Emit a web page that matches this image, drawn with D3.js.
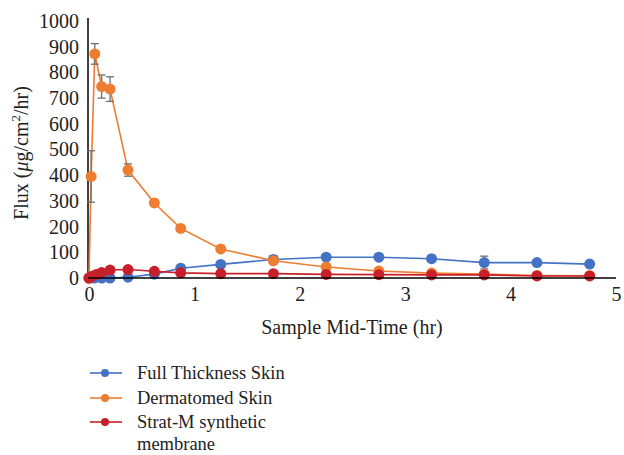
<!DOCTYPE html>
<html>
<head>
<meta charset="utf-8">
<script src="https://cdn.jsdelivr.net/npm/d3@7"></script>
<style>
  body { margin: 0; background: #fff; }
  svg text { font-family: "Liberation Serif", "Times New Roman", serif; fill: #222; }
</style>
</head>
<body>
<svg width="624" height="455"></svg>
<script>
// values
var seriesNames = ["Full Thickness Skin", "Dermatomed Skin", "Strat-M synthetic membrane"];
var seriesColors = ["#4472c4", "#ed7d31", "#c8202b"];

var fullTimes = [0, 0.05, 0.12, 0.2, 0.37, 0.62, 0.87, 1.25, 1.75, 2.25, 2.75, 3.25, 3.75, 4.25, 4.75];
var fullFlux  = [0, 0, 0, 0, 3, 15, 38, 53, 72, 81, 81, 75, 60, 60, 54];
var fullErr   = [0, 0, 0, 0, 2, 3, 4, 8, 15, 10, 12, 12, 25, 6, 6];

var dermTimes = [0, 0.02, 0.055, 0.12, 0.2, 0.37, 0.62, 0.87, 1.25, 1.75, 2.25, 2.75, 3.25, 3.75, 4.25, 4.75];
var dermFlux  = [0, 395, 872, 745, 735, 420, 292, 193, 113, 67, 43, 27, 19, 15, 10, 9];
var dermErr   = [0, 100, 40, 45, 48, 24, 10, 5, 4, 4, 3, 2, 2, 2, 2, 2];

var stratTimes = [0, 0.03, 0.07, 0.12, 0.2, 0.37, 0.62, 0.87, 1.25, 1.75, 2.25, 2.75, 3.25, 3.75, 4.25, 4.75];
var stratFlux  = [0, 7, 14, 21, 31, 33, 26, 20, 17, 17, 14, 13, 12, 12, 8, 8];
var stratErr   = [0, 1, 2, 2, 3, 10, 3, 2, 2, 2, 2, 2, 2, 2, 2, 2];

var xTicks = [0, 1, 2, 3, 4, 5];
var yTicks = [0, 100, 200, 300, 400, 500, 600, 700, 800, 900, 1000];

var series = [
  {name: seriesNames[0], color: seriesColors[0], t: fullTimes, v: fullFlux, e: fullErr},
  {name: seriesNames[1], color: seriesColors[1], t: dermTimes, v: dermFlux, e: dermErr},
  {name: seriesNames[2], color: seriesColors[2], t: stratTimes, v: stratFlux, e: stratErr}
];

var FONT = "Liberation Serif";
var svg = d3.select("svg");

var x = d3.scaleLinear().domain([0, 5]).range([89, 616]);
var y = d3.scaleLinear().domain([0, 1000]).range([278, 21]);

// axes
svg.append("line").attr("x1", x(0) - 1).attr("x2", x(0) - 1).attr("y1", y(1000) - 3).attr("y2", y(0))
  .attr("stroke", "#000").attr("stroke-width", 1.5);

var gy = svg.append("g").attr("transform", "translate(" + (x(0) - 1) + ",0)")
  .call(d3.axisLeft(y).tickValues(yTicks).tickFormat(d3.format("d")).tickSize(0).tickPadding(9));
gy.attr("font-family", FONT).attr("font-size", 20);
gy.select(".domain").remove();
gy.selectAll("text").attr("fill", "#222");

var gx = svg.append("g").attr("transform", "translate(0," + y(0) + ")")
  .call(d3.axisBottom(x).tickValues(xTicks).tickFormat(d3.format("d")).tickSize(0).tickPadding(9));
gx.attr("font-family", FONT).attr("font-size", 20);
gx.select(".domain").remove();
gx.selectAll("text").attr("fill", "#222");

// titles
svg.append("text").attr("x", 352).attr("y", 334).attr("text-anchor", "middle")
  .attr("font-size", 20).text("Sample Mid-Time (hr)");

var yt = svg.append("text").attr("transform", "translate(28,153) rotate(-90)")
  .attr("text-anchor", "middle").attr("font-size", 20);
yt.append("tspan").text("Flux (");
yt.append("tspan").attr("font-style", "italic").text("μ");
yt.append("tspan").text("g/cm");
yt.append("tspan").attr("font-size", 13).attr("dy", -8).text("2");
yt.append("tspan").attr("dy", 8).text("/hr)");

// plotting
var line = d3.line().x(function(d) { return x(d[0]); }).y(function(d) { return y(d[1]); });

series.forEach(function(s) {
  var pts = s.t.map(function(t, i) { return [t, s.v[i], s.e[i]]; });
  var g = svg.append("g");

  g.append("path").datum(pts).attr("d", line)
    .attr("fill", "none").attr("stroke", s.color).attr("stroke-width", 1.6);

  var eb = g.selectAll(".eb").data(pts.filter(function(d) { return d[2] > 0; })).enter().append("g")
    .attr("stroke", "#6f6f6f").attr("stroke-width", 1.3);
  eb.append("line").attr("x1", function(d) { return x(d[0]); }).attr("x2", function(d) { return x(d[0]); })
    .attr("y1", function(d) { return y(d[1] + d[2]); }).attr("y2", function(d) { return y(d[1] - d[2]); });
  eb.append("line").attr("x1", function(d) { return x(d[0]) - 4; }).attr("x2", function(d) { return x(d[0]) + 4; })
    .attr("y1", function(d) { return y(d[1] + d[2]); }).attr("y2", function(d) { return y(d[1] + d[2]); });
  eb.append("line").attr("x1", function(d) { return x(d[0]) - 4; }).attr("x2", function(d) { return x(d[0]) + 4; })
    .attr("y1", function(d) { return y(d[1] - d[2]); }).attr("y2", function(d) { return y(d[1] - d[2]); });

  g.selectAll("circle").data(pts).enter().append("circle")
    .attr("cx", function(d) { return x(d[0]); }).attr("cy", function(d) { return y(d[1]); })
    .attr("r", 5.5).attr("fill", s.color);
});

// x axis line on top
svg.append("line").attr("x1", x(0) - 1).attr("x2", x(5)).attr("y1", y(0)).attr("y2", y(0))
  .attr("stroke", "#000").attr("stroke-width", 1.5);

// legend
var legY = [373, 398, 422];
var leg = svg.append("g");
series.forEach(function(s, i) {
  var row = leg.append("g").attr("transform", "translate(0," + legY[i] + ")");
  row.append("line").attr("x1", 90).attr("x2", 122).attr("stroke", s.color).attr("stroke-width", 1.6);
  row.append("circle").attr("cx", 105).attr("r", 4).attr("fill", s.color);
  var t = row.append("text").attr("x", 137).attr("y", 6).attr("font-size", 18.5);
  if (i === 2) {
    t.append("tspan").attr("x", 137).text("Strat-M synthetic");
    t.append("tspan").attr("x", 137).attr("dy", 21.5).text("membrane");
  } else {
    t.text(s.name);
  }
});
</script>
</body>
</html>
